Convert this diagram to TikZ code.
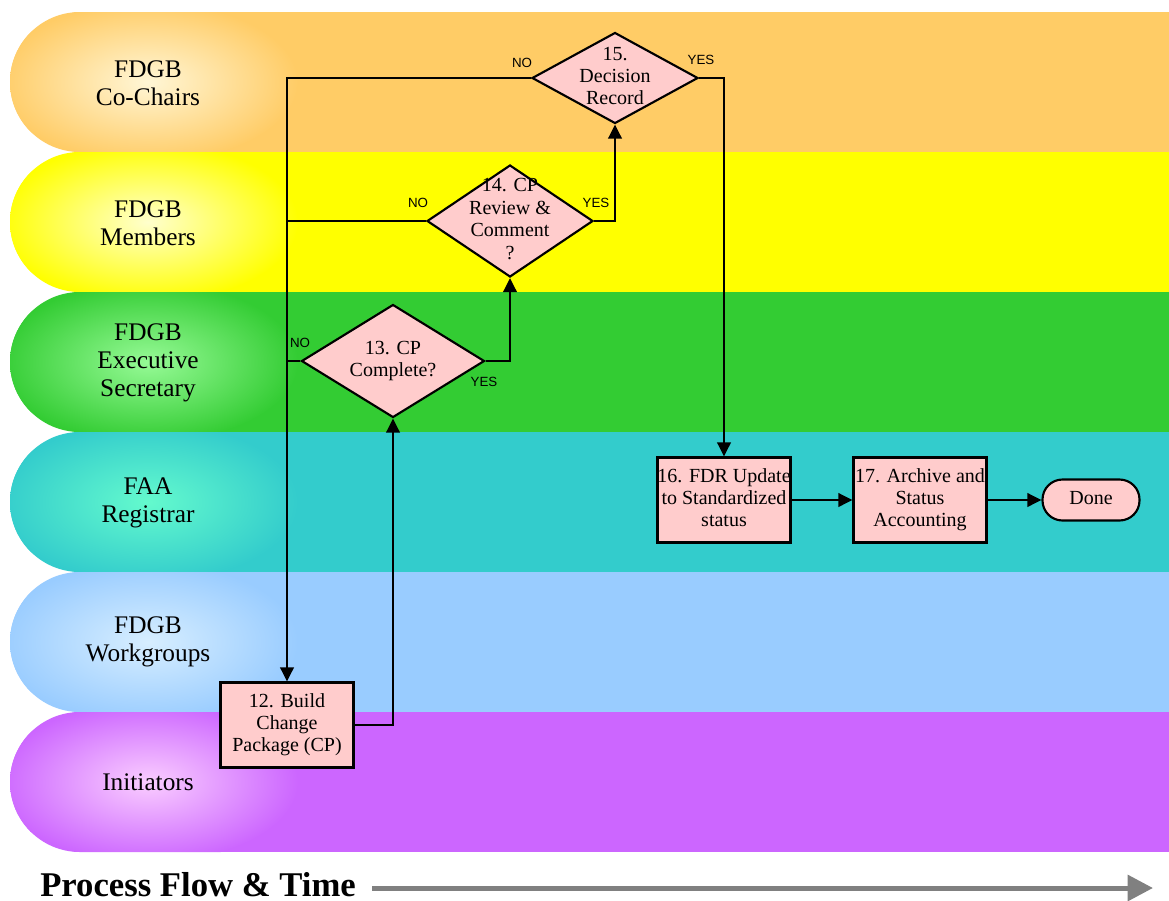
\documentclass[tikz,border=0pt]{standalone}
\usepackage{fontspec}
\setmainfont{Liberation Serif}
\newfontfamily\yesnofont{Liberation Sans}
\usetikzlibrary{shapes.geometric,arrows.meta}
\definecolor{laneA}{RGB}{255,204,102}
\definecolor{glowA}{RGB}{255,246,214}
\definecolor{laneB}{RGB}{255,255,0}
\definecolor{glowB}{RGB}{255,255,205}
\definecolor{laneC}{RGB}{51,204,51}
\definecolor{glowC}{RGB}{150,250,150}
\definecolor{laneD}{RGB}{51,204,204}
\definecolor{glowD}{RGB}{100,250,205}
\definecolor{laneE}{RGB}{153,204,255}
\definecolor{glowE}{RGB}{215,238,255}
\definecolor{laneF}{RGB}{204,102,255}
\definecolor{glowF}{RGB}{250,205,255}
\definecolor{nodefill}{RGB}{255,204,204}
\definecolor{flowgray}{RGB}{128,128,128}
\newcommand\dtext[1]{\makebox[0pt]{\raisebox{\dimexpr(\depth-\height)/2\relax}[0pt][0pt]{\begin{tabular}[b]{@{}c@{}}#1\end{tabular}}}}
\newcommand\swimlane[3]{%
  \begin{scope}
    \clip (1169,#1) -- (80,#1) arc[start angle=90,end angle=270,radius=52.5pt] -- (1169,#1+140) -- cycle;
    \fill[#2] (0,#1) rectangle (1169,#1+140);
    \shade[inner color=#3, outer color=#2] (148,#1+70) ellipse [x radius=150, y radius=80];
  \end{scope}}
\begin{document}
\begin{tikzpicture}[x=0.75pt,y=-0.75pt,
  conn/.style={line width=2pt, draw=black},
  arr/.style={conn, -{Triangle[length=10.5pt,width=10pt]}},
  proc/.style={draw=black, line width=1.6pt, fill=nodefill, rectangle, inner sep=0pt,
    minimum width=99.75pt, minimum height=63.75pt, font=\fontsize{15}{16.8}\selectfont},
  dec/.style={draw=black, line width=1.6pt, fill=nodefill, diamond, inner sep=0pt,
    font=\fontsize{15}{16.8}\selectfont},
  yn/.style={font=\yesnofont\fontsize{10}{12}\selectfont, inner sep=0pt},
  lanelbl/.style={font=\fontsize{19}{21}\selectfont, align=center, inner sep=0pt}
]
\useasboundingbox (0,0) rectangle (1169,900);
\fill[white] (0,0) rectangle (1169,900);
% lanes
\swimlane{12}{laneA}{glowA}
\swimlane{152}{laneB}{glowB}
\swimlane{292}{laneC}{glowC}
\swimlane{432}{laneD}{glowD}
\swimlane{572}{laneE}{glowE}
\swimlane{712}{laneF}{glowF}
% lane labels
\node[lanelbl] (lcc) at (148,83) {FDGB\\Co-Chairs};
\node[lanelbl] (lmem) at (148,223) {FDGB\\Members};
\node[lanelbl] (lexe) at (148,363) {FDGB\\Executive\\Secretary};
\node[lanelbl] (lfaa) at (148,503) {FAA\\Registrar};
\node[lanelbl] (lwg) at (148,642) {FDGB\\Workgroups};
\node[lanelbl] (lini) at (148,782) {Initiators};
% process nodes
\node[proc] (b12) at (287,725) {\dtext{12. Build\\Change\\Package (CP)}};
\node[dec, minimum width=137.25pt, minimum height=84.75pt] (d13) at (393,361) {\dtext{13. CP\\Complete?}};
\node[dec, minimum width=124.5pt, minimum height=84pt] (d14) at (510,221) {\dtext{14. CP\\Review \&\\Comment\\?}};
\node[dec, minimum width=124.5pt, minimum height=68.25pt] (d15) at (615,78) {\dtext{15.\\Decision\\Record}};
\node[proc] (b16) at (724,500) {\dtext{16. FDR Update\\to Standardized\\status}};
\node[proc] (b17) at (920,500) {\dtext{17. Archive and\\Status\\Accounting}};
\node[draw=black, line width=1.6pt, fill=nodefill, rectangle, rounded corners=15pt, inner sep=0pt,
  minimum width=72.75pt, minimum height=30.75pt, font=\fontsize{15}{16.8}\selectfont] (done) at (1091,500) {\dtext{Done}};
% connectors
\draw[arr] (d15.west) -| (b12.north);
\draw[conn] (d14.west) -- (d14.west -| b12.north);
\draw[conn] (d13.west) -- (d13.west -| b12.north);
\draw[arr] (b12.east) -| (d13.south);
\draw[arr] (d13.east) -| (d14.south);
\draw[arr] (d14.east) -| (d15.south);
\draw[arr] (d15.east) -| (b16.north);
\draw[arr] (b16.east) -- (b17.west);
\draw[arr] (b17.east) -- (done.west);
% yes / no labels
\node[yn] (no15) at (522,63) {NO};
\node[yn] (yes15) at (701,60) {YES};
\node[yn] (no14) at (418,203) {NO};
\node[yn] (yes14) at (596,203) {YES};
\node[yn] (no13) at (300,343) {NO};
\node[yn] (yes13) at (484,382) {YES};
% bottom
\node[font=\bfseries\fontsize{26}{30}\selectfont, anchor=west, inner sep=0pt] (pft) at (40,885) {Process Flow \& Time};
\coordinate (ts) at (372,888);
\coordinate (te) at (1153,888);
\draw[line width=3.75pt, draw=flowgray, -{Triangle[length=19pt,width=19pt]}] (ts) -- (te);
\end{tikzpicture}
\end{document}
